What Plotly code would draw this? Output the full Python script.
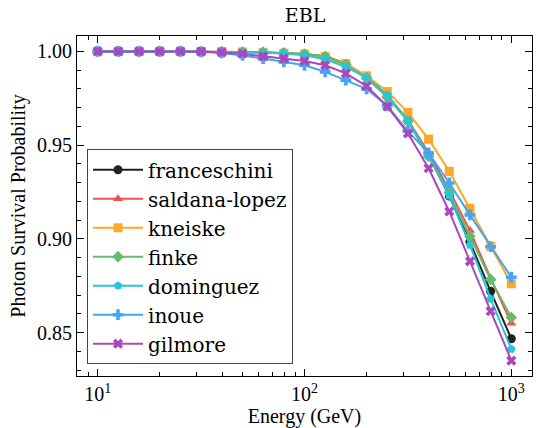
import plotly.graph_objects as go

energy = [10 ** (1 + 0.1 * k) for k in range(21)]

franceschini = [1.0, 1.0, 1.0, 1.0, 1.0, 0.99998, 0.9999, 0.9997, 0.9995, 0.9992, 0.9986,
                0.9974, 0.9935, 0.9865, 0.9765, 0.9630, 0.9448, 0.9228, 0.8983, 0.8720, 0.8467]
saldana_lopez = [1.0, 1.0, 1.0, 1.0, 1.0, 0.99998, 0.9999, 0.9997, 0.9995, 0.9991, 0.9984,
                 0.9970, 0.9930, 0.9860, 0.9760, 0.9635, 0.9460, 0.9260, 0.9044, 0.8790, 0.8550]
kneiske = [1.0, 1.0, 1.0, 1.0, 1.0, 0.99998, 0.9999, 0.9997, 0.9995, 0.9991, 0.9985,
           0.9972, 0.9935, 0.9870, 0.9786, 0.9675, 0.9532, 0.9360, 0.9163, 0.8960, 0.8760]
finke = [1.0, 1.0, 1.0, 1.0, 1.0, 0.99998, 0.9999, 0.9997, 0.9996, 0.9992, 0.9986,
         0.9972, 0.9930, 0.9860, 0.9756, 0.9628, 0.9440, 0.9246, 0.9014, 0.8783, 0.8580]
dominguez = [1.0, 1.0, 1.0, 1.0, 1.0, 0.99998, 0.9999, 0.9997, 0.9995, 0.9991, 0.9980,
             0.9958, 0.9918, 0.9860, 0.9768, 0.9633, 0.9445, 0.9230, 0.8967, 0.8680, 0.8412]
inoue = [1.0, 1.0, 1.0, 1.0, 1.0, 0.9998, 0.9992, 0.9979, 0.9962, 0.9944, 0.9926,
         0.9891, 0.9847, 0.9800, 0.9710, 0.9575, 0.9458, 0.9298, 0.9128, 0.8958, 0.8795]
gilmore = [1.0, 1.0, 1.0, 1.0, 1.0, 0.99995, 0.9995, 0.9988, 0.9974, 0.9962, 0.9949,
           0.9926, 0.9883, 0.9815, 0.9707, 0.9563, 0.9377, 0.9146, 0.8880, 0.8614, 0.8350]

series_names = ["franceschini", "saldana-lopez", "kneiske", "finke", "dominguez", "inoue", "gilmore"]
series_values = [franceschini, saldana_lopez, kneiske, finke, dominguez, inoue, gilmore]
colors = ["#212121", "#EF5350", "#FFA726", "#66BB6A", "#26C6DA", "#42A5F5", "#AB47BC"]
symbols = ["circle", "triangle-up", "square", "diamond", "pentagon", "cross", "x"]

x_tick_vals = [10, 100, 1000]
x_tick_text = ["10<sup>1</sup>", "10<sup>2</sup>", "10<sup>3</sup>"]
x_minor_vals = [m * 10 ** d for d in (0, 1, 2, 3) for m in range(2, 10)]
y_tick_vals = [0.85, 0.90, 0.95, 1.00]

fig = go.Figure()
for i, (name, vals) in enumerate(zip(series_names, series_values)):
    fig.add_trace(go.Scatter(
        x=energy, y=vals, name=name, mode="lines+markers",
        line=dict(color=colors[i], width=2),
        marker=dict(symbol=symbols[i], color=colors[i], size=9, line=dict(width=0)),
    ))

serif = "Liberation Serif, Times New Roman, serif"
dserif = "DejaVu Serif, serif"
fig.update_layout(
    width=538, height=428,
    margin=dict(l=77, r=5, t=36, b=50),
    paper_bgcolor="white", plot_bgcolor="white",
    title=dict(text="EBL", x=0.567, xanchor="center", y=0.965, yanchor="middle",
               font=dict(family=dserif, size=19, color="black")),
    font=dict(family=serif, size=20, color="black"),
    legend=dict(x=0.022, y=0.667, xanchor="left", yanchor="top",
                bgcolor="white", bordercolor="#444", borderwidth=1,
                font=dict(family=dserif, size=20, color="black"),
                itemwidth=50, tracegroupgap=0, entrywidth=212, entrywidthmode="pixels"),
    showlegend=True,
)
fig.update_xaxes(
    type="log", range=[0.9, 3.1],
    tickvals=x_tick_vals, ticktext=x_tick_text,
    ticks="inside", ticklen=7, tickwidth=1, tickcolor="black",
    showline=True, linecolor="black", linewidth=1, mirror="allticks",
    showgrid=False, zeroline=False,
    tickfont=dict(family=serif, size=20),
    title=dict(text="Energy (GeV)", font=dict(family=serif, size=20), standoff=4),
    minor=dict(tickvals=x_minor_vals, ticks="inside", ticklen=4, tickcolor="black", showgrid=False),
)
fig.update_yaxes(
    range=[0.8268, 1.00825],
    tickvals=y_tick_vals, tickformat=".2f",
    ticks="inside", ticklen=7, tickwidth=1, tickcolor="black",
    showline=True, linecolor="black", linewidth=1, mirror="allticks",
    showgrid=False, zeroline=False,
    tickfont=dict(family=serif, size=20),
    title=dict(text="Photon Survival Probability", font=dict(family=serif, size=20), standoff=6),
    minor=dict(dtick=0.01, ticks="inside", ticklen=4, tickcolor="black", showgrid=False),
)

fig.write_html("out.html")
